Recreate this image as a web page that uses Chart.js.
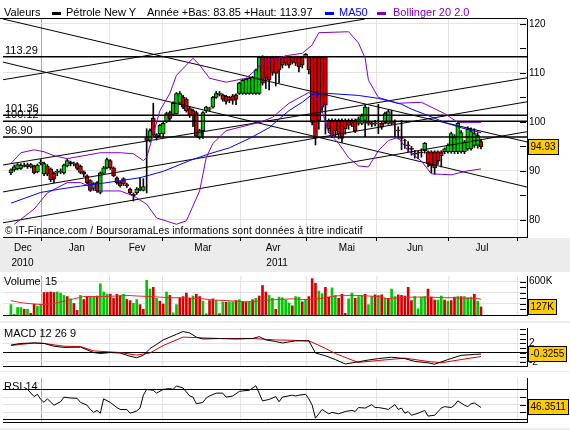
<!DOCTYPE html>
<html>
<head>
<meta charset="utf-8">
<script src="https://cdn.jsdelivr.net/npm/chart.js@4.4.0/dist/chart.umd.min.js"></script>
<style>
  body { margin:0; width:570px; height:430px; background:#ececec; position:relative; overflow:hidden;
         font-family:"Liberation Sans", Arial, sans-serif; }
  .panel { position:absolute; left:0; width:570px; background:#fff; }
  canvas { position:absolute; left:0; }
  .txt { position:absolute; font-size:11px; line-height:13px; white-space:nowrap; color:#000; }
  .sw { position:absolute; height:3px; width:9px; }
</style>
</head>
<body>
<div class="panel" style="top:0;height:238px"></div>
<div class="panel" style="top:272px;height:49px"></div>
<div class="panel" style="top:323px;height:48px"></div>
<div class="panel" style="top:372px;height:56px"></div>
<canvas id="main" width="570" height="270" style="top:0"></canvas>
<canvas id="vol" width="570" height="55" style="top:268px"></canvas>
<canvas id="macd" width="570" height="54" style="top:320px"></canvas>
<canvas id="rsi" width="570" height="60" style="top:370px"></canvas>

<div class="txt" style="left:4px;top:6px">Valeurs</div>
<div class="sw" style="left:52px;top:12px;background:#000"></div>
<div class="txt" style="left:66px;top:6px">Pétrole New Y</div>
<div class="txt" style="left:147px;top:6px">Année +Bas: 83.85 +Haut: 113.97</div>
<div class="sw" style="left:325px;top:12px;background:#0000ff"></div>
<div class="txt" style="left:339px;top:6px;color:#0000ff">MA50</div>
<div class="sw" style="left:377px;top:12px;background:#7f00c8"></div>
<div class="txt" style="left:393px;top:6px;color:#7f00c8">Bollinger 20 2.0</div>
<div class="txt" style="left:5px;top:225px;font-size:10px;line-height:12px;letter-spacing:0.2px">© IT-Finance.com / BoursoramaLes informations sont données à titre indicatif</div>
<div class="txt" style="left:4px;top:275px">Volume</div>
<div class="txt" style="left:45px;top:275px">15</div>
<div class="txt" style="left:4px;top:327px">MACD 12 26 9</div>
<div class="txt" style="left:4px;top:380px">RSI 14</div>

<script>
// ---- daily candles (Dec 2010 - Jul 2011), one entry per trading day
const opens = [
  89.6, 90.2, 90.4, 90.5, 91.2, 91.3, 90.8, 91.0, 89.8, 91.5,
  89.4, 91.0, 90.4, 89.5, 89.7, 90.0, 89.6, 91.0, 91.8, 91.4,
  91.5, 91.0, 89.8, 89.0, 88.0, 86.4, 87.6, 85.6, 89.5, 90.6,
  92.1, 90.6, 88.6, 87.6, 88.4, 87.2, 86.3, 85.2, 85.5, 86.3,
  86.0, 96.8, 96.2, 100.8, 97.4, 97.6, 97.6, 100.0, 101.9, 101.5,
  101.7, 103.8, 105.0, 104.6, 102.7, 102.3, 101.9, 96.8, 98.2, 102.3,
  102.6, 103.0, 105.0, 105.6, 105.5, 105.2, 105.0, 105.3, 105.5, 105.8,
  105.8, 105.8, 105.8, 105.8, 105.8, 105.8, 113.2, 113.2, 113.2, 113.2,
  113.2, 113.2, 113.2, 113.2, 113.2, 113.2, 113.2, 113.2, 113.2, 113.2,
  113.2, 113.2, 113.2, 113.2, 113.2, 113.2, 100.3, 100.3, 100.3, 100.3,
  100.3, 100.3, 100.3, 100.3, 100.3, 99.7, 99.7, 100.3, 100.0, 99.7,
  99.7, 99.6, 99.7, 99.9, 99.7, 100.1, 100.1, 98.3, 96.8, 96.3,
  95.3, 94.6, 93.6, 93.7, 93.8, 94.1, 93.9, 93.9, 93.9, 93.9,
  93.9, 93.9, 93.9, 93.9, 93.9, 93.9, 93.9, 93.9, 94.5, 94.5,
  95.2, 95.2, 96.0
];
const highs = [
  90.4, 91.2, 91.5, 91.5, 91.6, 91.6, 91.5, 91.2, 91.4, 92.3,
  91.8, 91.3, 90.6, 89.8, 90.3, 90.4, 91.4, 92.4, 92.0, 91.8,
  91.7, 91.2, 90.0, 89.2, 88.2, 87.6, 87.8, 89.8, 90.9, 92.6,
  92.3, 90.8, 88.8, 87.9, 88.6, 87.5, 86.5, 85.5, 86.6, 88.6,
  88.4, 98.6, 98.6, 103.8, 97.6, 99.5, 100.0, 102.0, 102.2, 104.1,
  106.0, 106.2, 105.4, 104.9, 103.0, 102.6, 102.2, 98.5, 102.1, 103.2,
  103.0, 105.2, 106.2, 106.2, 105.7, 105.4, 105.2, 105.6, 105.7, 108.1,
  108.7, 108.9, 109.1, 109.3, 110.8, 113.4, 113.5, 113.4, 113.4, 113.4,
  113.4, 113.4, 113.4, 113.5, 113.4, 113.4, 113.4, 113.4, 113.4, 113.97,
  113.4, 113.4, 113.4, 113.4, 113.4, 113.4, 100.6, 100.6, 100.6, 100.6,
  100.6, 100.6, 100.6, 100.6, 100.6, 101.0, 101.6, 103.4, 103.0, 100.0,
  100.3, 103.6, 100.0, 102.0, 102.4, 102.4, 100.4, 99.0, 100.3, 96.5,
  96.0, 95.0, 94.2, 94.0, 94.5, 95.8, 94.1, 94.1, 94.1, 94.1,
  94.1, 94.7, 95.5, 97.9, 97.4, 99.9, 98.2, 96.2, 99.0, 98.8,
  98.6, 97.8, 96.5
];
const lows = [
  89.2, 89.9, 90.2, 90.3, 90.8, 90.5, 90.6, 89.4, 89.6, 91.2,
  89.0, 89.0, 87.8, 87.6, 89.0, 89.4, 89.3, 90.8, 91.0, 91.0,
  90.2, 89.4, 88.8, 87.3, 85.8, 86.0, 85.6, 85.3, 89.2, 90.4,
  90.3, 88.8, 87.3, 86.7, 87.0, 86.6, 85.2, 83.85, 85.2, 85.9,
  85.9, 85.5, 95.9, 97.0, 96.3, 96.9, 96.9, 99.8, 100.3, 101.2,
  101.5, 103.5, 102.7, 102.0, 100.9, 99.0, 96.9, 96.5, 96.6, 101.9,
  102.2, 102.8, 104.8, 105.3, 104.2, 103.6, 103.9, 103.6, 103.5, 105.6,
  105.6, 105.6, 105.6, 105.6, 105.6, 105.6, 107.5, 106.8, 106.5, 109.5,
  107.3, 108.0, 111.0, 111.5, 111.0, 111.8, 111.5, 110.2, 111.0, 113.0,
  109.8, 99.4, 95.3, 98.5, 102.0, 97.5, 97.8, 96.8, 97.0, 96.5,
  95.8, 97.5, 98.5, 99.0, 97.8, 99.3, 99.4, 97.0, 99.3, 99.0,
  99.2, 97.6, 98.5, 99.6, 99.5, 99.4, 97.0, 96.5, 94.3, 94.6,
  93.9, 93.2, 92.6, 92.5, 92.8, 93.6, 90.8, 89.6, 89.3, 91.3,
  90.8, 93.5, 93.6, 93.6, 93.5, 93.5, 93.6, 93.5, 94.2, 94.2,
  94.8, 94.6, 94.5
];
const closes = [
  90.2, 90.8, 91.3, 91.2, 91.0, 90.8, 91.3, 89.6, 91.2, 91.8,
  91.5, 89.3, 88.2, 88.3, 89.9, 89.8, 91.2, 92.1, 91.4, 91.5,
  90.5, 89.7, 89.3, 87.6, 86.0, 87.4, 85.9, 89.6, 90.6, 92.3,
  90.6, 89.0, 87.6, 87.0, 87.4, 87.0, 85.5, 84.9, 86.3, 86.5,
  86.8, 96.2, 98.2, 97.4, 96.8, 99.3, 99.7, 101.7, 100.7, 103.8,
  105.8, 105.8, 103.0, 102.3, 101.3, 101.3, 97.2, 98.2, 101.9, 103.0,
  102.7, 105.0, 105.8, 105.9, 104.6, 104.2, 104.4, 104.4, 104.6, 107.9,
  108.5, 108.7, 108.9, 109.1, 110.6, 113.2, 107.9, 109.1, 108.5, 110.1,
  109.9, 110.6, 111.6, 112.0, 111.6, 112.2, 112.0, 111.2, 111.6, 113.8,
  110.6, 99.9, 96.8, 100.3, 103.0, 103.4, 98.6, 97.2, 98.2, 97.6,
  96.6, 98.6, 99.3, 99.7, 98.2, 100.6, 101.3, 103.0, 99.7, 99.5,
  99.8, 99.7, 98.9, 101.7, 102.1, 99.7, 100.0, 98.2, 96.6, 96.2,
  95.1, 94.4, 93.4, 93.6, 93.7, 95.6, 91.5, 91.0, 90.6, 92.0,
  93.1, 94.5, 95.2, 97.6, 96.8, 99.7, 97.8, 95.8, 98.6, 98.0,
  97.6, 97.2, 94.93
];

// volume in thousands, and bar colour (g = up, r = down)
const volumes = [
  186, 14, 134, 134, 103, 103, 30, 196, 154, 196,
  404, 404, 414, 404, 414, 393, 352, 331, 290, 207,
  82, 352, 279, 331, 331, 331, 341, 560, 414, 373,
  373, 300, 373, 341, 373, 279, 259, 210, 279, 186,
  103, 622, 466, 497, 300, 248, 196, 414, 352, 40,
  186, 310, 331, 393, 300, 341, 373, 331, 248, 24,
  259, 290, 259, 24, 237, 227, 237, 237, 259, 274,
  233, 227, 237, 274, 300, 341, 529, 414, 352, 300,
  103, 321, 310, 269, 217, 165, 331, 321, 237, 274,
  331, 653, 570, 430, 383, 497, 320, 487, 352, 300,
  373, 30, 290, 393, 300, 331, 341, 373, 186, 331,
  362, 352, 362, 300, 300, 466, 331, 362, 352, 341,
  497, 259, 331, 113, 321, 331, 466, 321, 269, 269,
  341, 269, 248, 259, 321, 331, 331, 331, 310, 321,
  373, 248, 144
];
const volDir = ('ggggrgrrgg' + 'rrrrgggrgr' + 'rgrrggrggg' + 'rrrrgrrggr' + 'rggrgrrgrg' +
  'grrrrgrrgg' + 'rrgrgrggrg' + 'rrgrgrrrgg' + 'rggggrggrg' + 'rrrggrrggr' +
  'rrggrggrgg' + 'rgrgrggrrr' + 'rrggggrrrg' + 'grgrrgrggg' + 'rgr').split('');

// lines read at sample days
const maDays = [0, 9, 15, 21, 27, 33, 39, 46, 54, 60, 66, 72, 78, 84, 88, 91, 96, 105, 111, 118, 121, 126, 131, 136, 142];
const maVals = [83.4, 85.6, 86.3, 86.9, 87.4, 88.0, 88.6, 89.9, 92.1, 93.5, 94.7, 96.6, 98.8, 102.3, 104.0, 105.6, 105.8, 105.4, 104.8, 103.6, 102.6, 101.3, 99.9, 98.8, 97.8];

const bbUpDays = [0, 3, 7, 10, 13, 17, 27, 33, 37, 40, 41, 45, 48, 50, 55, 57, 60, 65, 71, 74, 76, 84, 88, 91, 93, 102, 105, 107, 108, 111, 117, 124, 127, 131, 135, 142];
const bbUpVals = [91.5, 93.7, 94.3, 93.9, 93.1, 92.5, 93.7, 93.7, 93.5, 92.1, 92.7, 102.3, 105.8, 109.5, 113.0, 111.6, 108.9, 108.1, 108.9, 110.6, 112.2, 113.6, 114.0, 115.7, 118.2, 118.4, 116.1, 113.0, 108.5, 105.0, 103.8, 104.0, 103.0, 101.7, 99.9, 99.9];
const bbLoDays = [1, 7, 11, 17, 21, 27, 33, 37, 41, 44, 50, 53, 57, 59, 61, 65, 75, 79, 84, 90, 93, 96, 99, 102, 105, 108, 111, 114, 117, 120, 124, 127, 133, 138, 142];
const bbLoVals = [79.1, 82.2, 85.5, 87.6, 87.6, 85.9, 85.9, 84.9, 83.2, 80.4, 79.1, 79.8, 85.9, 92.7, 95.6, 98.2, 99.9, 100.9, 103.8, 106.0, 104.4, 97.8, 95.6, 92.7, 91.0, 90.8, 94.1, 96.2, 96.8, 94.1, 92.0, 89.4, 89.2, 90.0, 90.4];

const volMaDays = [0, 3, 7, 10, 13, 16, 19, 22, 25, 28, 32, 35, 38, 42, 45, 48, 52, 55, 58, 61, 65, 68, 71, 75, 78, 81, 85, 88, 91, 94, 98, 101, 104, 108, 111, 114, 117, 121, 124, 127, 131, 134, 137, 141, 142];
const volMaVals = [259, 221, 196, 186, 207, 248, 290, 331, 331, 331, 341, 352, 341, 331, 321, 310, 310, 300, 290, 269, 259, 248, 237, 248, 269, 279, 290, 279, 279, 300, 341, 352, 352, 341, 331, 290, 310, 321, 321, 321, 310, 310, 300, 300, 279];

const macdDays = [0, 3, 7, 10, 13, 16, 21, 25, 27, 30, 33, 36, 38, 40, 42, 44, 46, 50, 52, 54, 56, 58, 63, 68, 73, 75, 77, 80, 82, 86, 90, 92, 95, 98, 101, 104, 108, 111, 115, 119, 122, 126, 128, 132, 136, 140, 142];
const macdVals = [1.6, 1.95, 2.05, 1.95, 1.35, 1.1, 1.15, 0.0, -0.2, 0, -0.1, -0.8, -1.1, -0.6, 0.85, 1.75, 2.7, 3.9, 4.5, 4.2, 3.3, 2.9, 3.0, 2.9, 3.0, 3.4, 2.7, 2.35, 2.05, 2.5, 2.5, -0.1, -0.7, -1.5, -2.45, -2.1, -1.6, -1.3, -1.0, -1.3, -1.9, -2.2, -2.5, -1.5, -0.6, -0.4, -0.33];
const sigDays = [0, 7, 10, 16, 21, 25, 33, 38, 42, 46, 52, 56, 63, 73, 80, 86, 90, 95, 98, 103, 105, 111, 119, 126, 130, 136, 142];
const sigVals = [1.5, 2.05, 1.95, 1.35, 1.3, 0.35, 0, -0.55, -0.1, 1.5, 3.3, 3.2, 3.0, 3.0, 2.7, 2.6, 2.5, 0.9, -0.2, -1.6, -2.1, -1.7, -1.2, -1.9, -2.2, -1.5, -0.85];

const rsiDays = [4, 5, 7, 8, 9, 10, 11, 13, 15, 16, 18, 20, 21, 23, 24, 25, 26, 27, 28, 30,
  32, 33, 35, 36, 38, 39, 40, 41, 43, 44, 46, 48, 49, 50, 52, 54, 55, 56, 58, 59,
  60, 62, 64, 65, 67, 69, 70, 72, 74, 76, 78, 80, 81, 82, 85, 86, 87, 89, 90, 91,
  92, 93, 94, 96, 97, 99, 101, 103, 104, 105, 107, 109, 110, 111, 113, 114, 116, 117, 118, 119,
  120, 121, 123, 125, 126, 128, 130, 131, 133, 134, 135, 137, 138, 139, 140, 141, 142];
const rsiVals = [72.9, 70.3, 60.7, 63.8, 56.9, 53.0, 57.7, 49.2, 53.8, 60.0, 58.8, 58.4, 53.0, 49.2, 43.5, 39.6, 42.3, 38.5, 57.7, 53.0,
  46.1, 43.5, 43.5, 38.5, 41.5, 45.4, 62.6, 70.3, 69.1, 65.3, 70.3, 71.4, 70.3, 74.9, 72.2, 61.5, 60.0, 51.1, 53.0, 58.8,
  61.5, 65.3, 65.3, 60.0, 61.5, 67.6, 68.3, 69.1, 75.2, 55.0, 56.9, 60.7, 53.8, 60.0, 62.6, 61.5, 62.6, 63.8, 57.7, 49.2,
  32.0, 37.7, 43.5, 37.7, 39.6, 37.7, 40.8, 42.3, 40.8, 46.1, 45.4, 50.0, 46.1, 46.1, 44.6, 43.5, 50.0, 43.5, 45.4, 38.5,
  40.8, 35.8, 38.5, 42.3, 34.7, 35.8, 45.4, 47.3, 46.1, 49.2, 55.0, 49.2, 47.3, 51.1, 52.2, 49.2, 46.1];

// horizontal levels and trend lines [day0, value0, day1, value1]
const levels = [113.29, 101.36, 100.12, 96.90];
const trendLines = [
  [-2.4, 121.0, 155.9, 95.9],
  [-2.4, 108.6, 106.9, 121.0],
  [-2.4, 112.2, 155.9, 86.7],
  [-2.4, 91.2, 155.9, 109.0],
  [-2.4, 85.7, 155.9, 104.1],
  [-2.4, 79.4, 155.9, 98.0]
];

// axis ticks
const monthEdges = [9.1, 29.9, 45.9, 69.2, 89.4, 110.3, 132.3, 152.9];
const monthNames = ['Dec', 'Jan', 'Fev', 'Mar', 'Avr', 'Mai', 'Jun', 'Jul'];
const monthMid = [3.6, 19.9, 38.1, 58.0, 79.2, 101.5, 122.1, 142.3];
const yearNames = ['2010', '2011'];
const yearMid = [3.5, 80.4];
const priceTicks = [80, 85, 90, 95, 100, 105, 110, 115, 120];
const volTicks = [100, 200, 300, 400, 500, 600];
const macdTicks = [-2, -1, 0, 1, 2, 3, 4, 5];
const rsiTicks = [30, 40, 50, 60, 70];

const FONT = '"Liberation Sans", Arial, sans-serif';
const GREEN = '#00c800';
const RED = '#d40000';
const PURPLE = '#7f00c8';
const X_MIN = -2.4, X_MAX = 155.9;
const days = closes.map((c, i) => i);

function line(xs, ys, color, order, width) {
  return {
    type: 'line', data: xs.map((d, k) => ({ x: d, y: ys[k] })),
    borderColor: color, borderWidth: width || 1, pointRadius: 0, tension: 0, fill: false, order
  };
}

function xAxis(h, tickLen) {
  return {
    type: 'linear', min: X_MIN, max: X_MAX, offset: false,
    afterBuildTicks: s => { s.ticks = monthEdges.map(v => ({ value: v })); },
    afterFit: s => { s.height = h; },
    ticks: { display: false },
    grid: {
      offset: false,
      color: c => (c.tick && c.tick.value === monthEdges[0]) ? '#a8a8a8' : '#e2e2e2',
      drawTicks: tickLen > 0, tickLength: tickLen, tickColor: '#000'
    },
    border: { color: '#000' }
  };
}

function yAxis(min, max, ticks, label, gridColor) {
  return {
    position: 'right', min, max,
    afterBuildTicks: s => { s.ticks = ticks.map(v => ({ value: v })); },
    afterFit: s => { s.width = 43; },
    ticks: { callback: label, autoSkip: false, padding: 2, color: '#000', font: { family: FONT, size: 10 } },
    grid: { color: c => gridColor(c.tick.value), drawTicks: false },
    border: { color: '#000' }
  };
}

// inner tick dashes, value box, extra text
function deco(opts) {
  return {
    id: 'deco',
    afterDraw(chart) {
      const { ctx, chartArea: a, scales: { x, y } } = chart;
      ctx.save();
      ctx.strokeStyle = '#000';
      ctx.lineWidth = 1;
      opts.dashes.forEach(v => {
        const py = Math.round(y.getPixelForValue(v)) + 0.5;
        ctx.beginPath(); ctx.moveTo(a.right - 7, py); ctx.lineTo(a.right - 1, py); ctx.stroke();
      });
      if (opts.top) {
        ctx.beginPath(); ctx.moveTo(0, a.top - 0.5); ctx.lineTo(a.right, a.top - 0.5); ctx.stroke();
      }
      if (opts.extra) opts.extra(ctx, a, x, y);
      if (opts.box) {
        ctx.font = '10px ' + FONT;
        const w = Math.ceil(ctx.measureText(opts.box.text).width) + 5;
        const py = Math.round(y.getPixelForValue(opts.box.value));
        const x0 = Math.round(a.right) + 1;
        ctx.fillStyle = '#ffcc00';
        ctx.fillRect(x0, py - 8, w, 16);
        ctx.strokeRect(x0 + 0.5, py - 7.5, w - 1, 15);
        ctx.fillStyle = '#000';
        ctx.textBaseline = 'middle';
        ctx.fillText(opts.box.text, x0 + 2.5, py + 0.5);
      }
      ctx.restore();
    }
  };
}

Chart.defaults.font.family = FONT;
const base = { responsive: false, animation: false, events: [], plugins: { legend: { display: false }, tooltip: { enabled: false } } };

// ---------- price chart
new Chart(document.getElementById('main'), {
  type: 'bar',
  data: {
    datasets: [
      { type: 'bar', data: days.map(i => ({ x: i, y: [lows[i], highs[i]] })), backgroundColor: '#000',
        barThickness: 1, grouped: false, order: 6 },
      { type: 'bar', data: days.map(i => ({ x: i, y: [opens[i], closes[i]] })),
        backgroundColor: days.map(i => closes[i] >= opens[i] ? GREEN : RED),
        borderColor: '#000', borderWidth: 1, borderSkipped: false, barThickness: 4, grouped: false, order: 5 },
      ...levels.map(v => line([X_MIN, X_MAX], [v, v], '#000', 3, 1.5)),
      ...trendLines.map(t => line([t[0], t[2]], [t[1], t[3]], '#000', 3, 1)),
      line(bbUpDays, bbUpVals, PURPLE, 1),
      line(bbLoDays, bbLoVals, PURPLE, 1),
      line(maDays, maVals, '#0000ff', 0)
    ]
  },
  options: {
    ...base,
    layout: { padding: { left: 3, top: 19, right: 0, bottom: 0 } },
    scales: {
      x: xAxis(33, 4),
      y: yAxis(76.5, 121, priceTicks, v => v % 10 === 0 ? String(v) : '',
        v => v % 10 === 0 ? '#e2e2e2' : 'rgba(0,0,0,0)')
    }
  },
  plugins: [deco({
    dashes: priceTicks, top: true, box: { value: 94.93, text: '94.93' },
    extra(ctx, a, x, y) {
      ctx.fillStyle = '#000';
      ctx.font = '11px ' + FONT;
      ctx.textAlign = 'left';
      levels.forEach(v => ctx.fillText(v.toFixed(2), 5, y.getPixelForValue(v) - 3));
      ctx.font = '10px ' + FONT;
      ctx.textAlign = 'center';
      monthNames.forEach((m, k) => ctx.fillText(m, x.getPixelForValue(monthMid[k]), 251));
      yearNames.forEach((t, k) => ctx.fillText(t, x.getPixelForValue(yearMid[k]), 266));
      ctx.textAlign = 'left';
    }
  })]
});

// ---------- volume
new Chart(document.getElementById('vol'), {
  type: 'bar',
  data: {
    datasets: [
      { type: 'bar', data: days.map(i => ({ x: i, y: volumes[i] })),
        backgroundColor: days.map(i => volDir[i] === 'g' ? GREEN : RED), barThickness: 2, grouped: false, order: 2 },
      line(volMaDays, volMaVals, '#dd2a2a', 0)
    ]
  },
  options: {
    ...base,
    layout: { padding: { left: 3, top: 4, right: 0, bottom: 2 } },
    scales: {
      x: xAxis(0, 0),
      y: yAxis(0, 700, volTicks, v => v === 600 ? '600K' : '',
        v => v % 200 === 0 ? '#e2e2e2' : 'rgba(0,0,0,0)')
    }
  },
  plugins: [deco({ dashes: volTicks, box: { value: 135, text: '127K' } })]
});

// ---------- MACD
new Chart(document.getElementById('macd'), {
  type: 'line',
  data: {
    datasets: [
      line(sigDays, sigVals, '#dd0000', 1),
      line(macdDays, macdVals, '#000', 0)
    ]
  },
  options: {
    ...base,
    layout: { padding: { left: 3, top: 3, right: 0, bottom: 3 } },
    scales: {
      x: xAxis(0, 0),
      y: yAxis(-2.88, 5.25, macdTicks, v => (v === 2 || v === -2) ? String(v) : '',
        v => v === 0 ? '#000' : (v === 2 || v === -2 || v === 5) ? '#e2e2e2' : 'rgba(0,0,0,0)')
    }
  },
  plugins: [deco({ dashes: macdTicks, box: { value: -0.3255, text: '-0.3255' } })]
});

// ---------- RSI
new Chart(document.getElementById('rsi'), {
  type: 'line',
  data: { datasets: [line(rsiDays, rsiVals, '#000', 0)] },
  options: {
    ...base,
    layout: { padding: { left: 3, top: 3, right: 0, bottom: 2 } },
    scales: {
      x: xAxis(0, 0),
      y: yAxis(26.8, 85.5, rsiTicks, () => '',
        v => (v === 70 || v === 30) ? '#000' : '#e2e2e2')
    }
  },
  plugins: [deco({ dashes: [40, 50, 60], box: { value: 46.3511, text: '46.3511' } })]
});
</script>
</body>
</html>
